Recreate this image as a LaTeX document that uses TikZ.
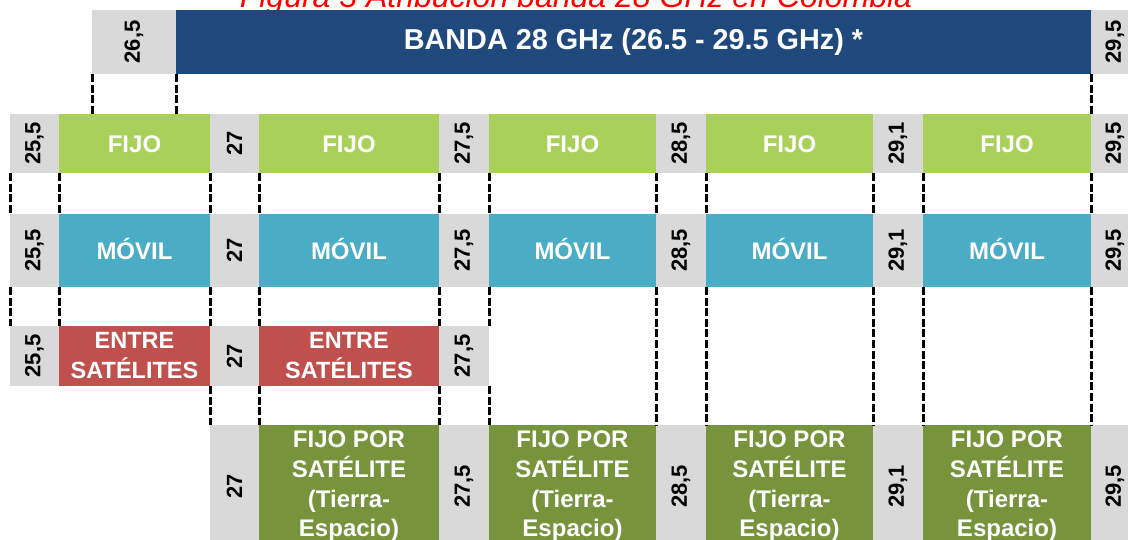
\documentclass[tikz,border=0pt]{standalone}
\usepackage{fontspec}
\setmainfont{Liberation Sans}
\usepackage{graphicx}
\definecolor{cgray}{RGB}{217,217,217}
\definecolor{cblue}{RGB}{31,73,125}
\definecolor{clgreen}{RGB}{169,209,90}
\definecolor{cteal}{RGB}{75,172,198}
\definecolor{cred}{RGB}{192,80,77}
\definecolor{cdgreen}{RGB}{119,147,60}
\definecolor{ctitle}{RGB}{255,0,0}
\tikzset{
  cellbox/.style={draw=none, inner sep=0pt, outer sep=0pt, anchor=north west, align=center},
  numcell/.style={cellbox, fill=cgray, text=black, font=\bfseries\fontsize{22}{26}\selectfont},
  fijocell/.style={cellbox, fill=clgreen, text=white, font=\bfseries\fontsize{24}{29}\selectfont, text height=17.2pt, text depth=0pt},
  movilcell/.style={cellbox, fill=cteal, text=white, font=\bfseries\fontsize{24}{29}\selectfont, text height=17.2pt, text depth=0pt},
  entrecell/.style={cellbox, fill=cred, text=white, font=\bfseries\fontsize{23.5}{30}\selectfont},
  fsscell/.style={cellbox, fill=cdgreen, text=white, font=\bfseries\fontsize{24}{29.7}\selectfont},
  bandcell/.style={cellbox, fill=cblue, text=white, font=\bfseries\fontsize{28.8}{34}\selectfont},
  guide/.style={draw=black, line width=3pt, dash pattern=on 8pt off 2.6pt, line cap=butt},
  titletext/.style={inner sep=0pt, anchor=base, text=ctitle, font=\itshape\fontsize{32}{38}\selectfont}
}
\begin{document}
\begin{tikzpicture}[x=1pt,y=-1pt]
\useasboundingbox (0,0) rectangle (1128,539);
\fill[white] (0,0) rectangle (1128,539);
\node[titletext] (title) at (576,7.5) {Figura 3 Atribución banda 28 GHz en Colombia};
% top band row
\node[numcell, minimum width=84, minimum height=64] (t0) at (92,10) {\rotatebox{90}{26,5}};
\node[bandcell, minimum width=915, minimum height=64] (t1) at (176,10) {BANDA 28 GHz (26.5 - 29.5 GHz) *};
\node[numcell, minimum width=48, minimum height=64] (t2) at (1091,10) {\rotatebox{90}{29,5}};
% FIJO row
\node[numcell, minimum width=49, minimum height=59] (f0) at (10,114) {\rotatebox{90}{25,5}};
\node[fijocell, minimum width=151, minimum height=59] (f1) at (59,114) {FIJO};
\node[numcell, minimum width=49, minimum height=59] (f2) at (210,114) {\rotatebox{90}{27}};
\node[fijocell, minimum width=180, minimum height=59] (f3) at (259,114) {FIJO};
\node[numcell, minimum width=50, minimum height=59] (f4) at (439,114) {\rotatebox{90}{27,5}};
\node[fijocell, minimum width=167, minimum height=59] (f5) at (489,114) {FIJO};
\node[numcell, minimum width=50, minimum height=59] (f6) at (656,114) {\rotatebox{90}{28,5}};
\node[fijocell, minimum width=167, minimum height=59] (f7) at (706,114) {FIJO};
\node[numcell, minimum width=50, minimum height=59] (f8) at (873,114) {\rotatebox{90}{29,1}};
\node[fijocell, minimum width=168, minimum height=59] (f9) at (923,114) {FIJO};
\node[numcell, minimum width=48, minimum height=59] (f10) at (1091,114) {\rotatebox{90}{29,5}};
% MOVIL row
\node[numcell, minimum width=49, minimum height=73] (m0) at (10,214) {\rotatebox{90}{25,5}};
\node[movilcell, minimum width=151, minimum height=73] (m1) at (59,214) {MÓVIL};
\node[numcell, minimum width=49, minimum height=73] (m2) at (210,214) {\rotatebox{90}{27}};
\node[movilcell, minimum width=180, minimum height=73] (m3) at (259,214) {MÓVIL};
\node[numcell, minimum width=50, minimum height=73] (m4) at (439,214) {\rotatebox{90}{27,5}};
\node[movilcell, minimum width=167, minimum height=73] (m5) at (489,214) {MÓVIL};
\node[numcell, minimum width=50, minimum height=73] (m6) at (656,214) {\rotatebox{90}{28,5}};
\node[movilcell, minimum width=167, minimum height=73] (m7) at (706,214) {MÓVIL};
\node[numcell, minimum width=50, minimum height=73] (m8) at (873,214) {\rotatebox{90}{29,1}};
\node[movilcell, minimum width=168, minimum height=73] (m9) at (923,214) {MÓVIL};
\node[numcell, minimum width=48, minimum height=73] (m10) at (1091,214) {\rotatebox{90}{29,5}};
% ENTRE SATELITES row
\node[numcell, minimum width=49, minimum height=60] (e0) at (10,326) {\rotatebox{90}{25,5}};
\node[entrecell, minimum width=151, minimum height=60] (e1) at (59,326) {ENTRE\\SATÉLITES};
\node[numcell, minimum width=49, minimum height=60] (e2) at (210,326) {\rotatebox{90}{27}};
\node[entrecell, minimum width=180, minimum height=60] (e3) at (259,326) {ENTRE\\SATÉLITES};
\node[numcell, minimum width=50, minimum height=60] (e4) at (439,326) {\rotatebox{90}{27,5}};
% FIJO POR SATELITE row
\node[numcell, minimum width=49, minimum height=123] (b2) at (210,425) {\rotatebox{90}{27}};
\node[fsscell, minimum width=180, minimum height=123] (b3) at (259,425) {FIJO POR\\SATÉLITE\\(Tierra-\\Espacio)};
\node[numcell, minimum width=50, minimum height=123] (b4) at (439,425) {\rotatebox{90}{27,5}};
\node[fsscell, minimum width=167, minimum height=123] (b5) at (489,425) {FIJO POR\\SATÉLITE\\(Tierra-\\Espacio)};
\node[numcell, minimum width=50, minimum height=123] (b6) at (656,425) {\rotatebox{90}{28,5}};
\node[fsscell, minimum width=167, minimum height=123] (b7) at (706,425) {FIJO POR\\SATÉLITE\\(Tierra-\\Espacio)};
\node[numcell, minimum width=50, minimum height=123] (b8) at (873,425) {\rotatebox{90}{29,1}};
\node[fsscell, minimum width=168, minimum height=123] (b9) at (923,425) {FIJO POR\\SATÉLITE\\(Tierra-\\Espacio)};
\node[numcell, minimum width=48, minimum height=123] (b10) at (1091,425) {\rotatebox{90}{29,5}};
% dashed guides
\draw[guide] (t0.south west) -- (t0.south west |- f1.north);
\draw[guide] (t0.south east) -- (t0.south east |- f1.north);
\draw[guide] (t1.south east) -- (f10.north west);
\foreach \i in {0,...,10} {\draw[guide] (f\i.south west) -- (m\i.north west);}
\foreach \i in {0,...,4} {\draw[guide] (m\i.south west) -- (e\i.north west);}
\draw[guide] (m5.south west) -- (e4.north east);
\foreach \i in {6,...,10} {\draw[guide] (m\i.south west) -- (b\i.north west);}
\foreach \i in {2,...,4} {\draw[guide] (e\i.south west) -- (b\i.north west);}
\draw[guide] (e4.south east) -- (b5.north west);
\end{tikzpicture}
\end{document}
